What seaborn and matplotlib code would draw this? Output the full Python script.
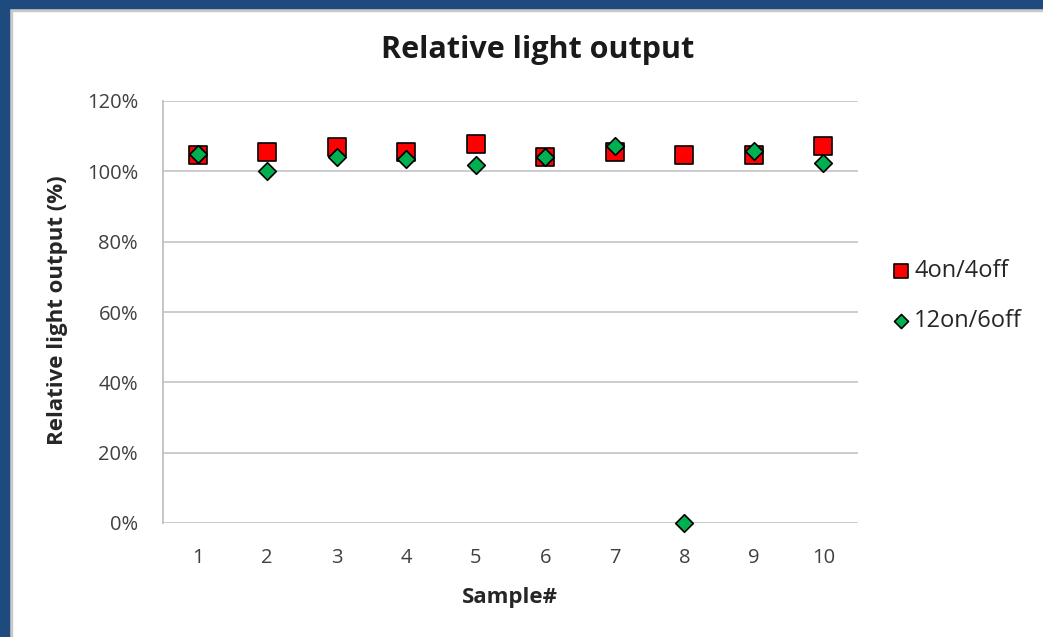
import matplotlib
matplotlib.use("Agg")
import matplotlib.pyplot as plt
import seaborn as sns
import pandas as pd
from matplotlib.patches import Rectangle
from matplotlib.ticker import PercentFormatter

samples = list(range(1, 11))
cycle_4on_4off = [104.6, 105.5, 106.9, 105.5, 107.8, 104.1, 105.5, 104.6, 104.6, 107.2]
cycle_12on_6off = [104.8, 100.2, 104.0, 103.5, 101.7, 104.1, 107.2, 0.0, 105.8, 102.5]
series_names = ["4on/4off", "12on/6off"]
y_ticks = [0, 20, 40, 60, 80, 100, 120]

sns.set_theme(style="white")
plt.rcParams["font.family"] = ["Open Sans", "DejaVu Sans"]

W, H = 1043, 637
fig = plt.figure(figsize=(W / 100, H / 100), dpi=100)
ax = fig.add_axes([163 / W, 1 - 523 / H, (858 - 163) / W, (523 - 101) / H])

df = pd.DataFrame({
    "Sample": samples * 2,
    "Output": cycle_4on_4off + cycle_12on_6off,
    "Series": [series_names[0]] * len(samples) + [series_names[1]] * len(samples),
})

sns.scatterplot(data=df[df["Series"] == series_names[0]], x="Sample", y="Output",
                marker="s", s=150, color="#FF0000", edgecolor="black", linewidth=1.2,
                label=series_names[0], ax=ax, zorder=3, clip_on=False)
sns.scatterplot(data=df[df["Series"] == series_names[1]], x="Sample", y="Output",
                marker="D", s=80, color="#00B050", edgecolor="black", linewidth=1.2,
                label=series_names[1], ax=ax, zorder=4, clip_on=False)

ax.set_xlim(0.5, 10.5)
ax.set_ylim(0, 120)
ax.set_xticks(samples)
ax.set_yticks(y_ticks)
ax.yaxis.set_major_formatter(PercentFormatter(decimals=0))
ax.grid(axis="y", color="#C8C8C8", linewidth=1.3)
ax.set_axisbelow(True)
for side in ["top", "right", "bottom"]:
    ax.spines[side].set_visible(False)
ax.spines["left"].set_color("#C0C0C0")
ax.spines["left"].set_linewidth(1.3)
ax.tick_params(axis="both", length=0, labelsize=14.5, colors="#404040")
ax.tick_params(axis="y", pad=18)
ax.tick_params(axis="x", pad=18)

ax.set_xlabel("")
ax.set_ylabel("")
fig.text(510 / W, 1 - 598 / H, "Sample#", fontsize=16, fontweight="bold",
         color="#262626", ha="center", va="center")
fig.text(58 / W, 1 - 310 / H, "Relative light output (%)", fontsize=16, fontweight="bold",
         color="#262626", ha="center", va="center", rotation=90)
fig.text(538 / W, 1 - 50 / H, "Relative light output", fontsize=22, fontweight="bold",
         color="#1a1a1a", ha="center", va="center")

leg = ax.legend(loc="center left", bbox_to_anchor=(868 / W, 1 - 296 / H),
                bbox_transform=fig.transFigure, frameon=False,
                fontsize=17, handletextpad=0.05, labelspacing=1.1, markerscale=0.8,
                handlelength=1.0, labelcolor="#262626")

# window frame
fig.patches.append(Rectangle((0, 1 - 8 / H), 1, 8 / H, transform=fig.transFigure,
                             color="#1F4A7E", zorder=10))
fig.patches.append(Rectangle((0, 0), 9 / W, 1, transform=fig.transFigure,
                             color="#1F4A7E", zorder=10))
fig.patches.append(Rectangle((9 / W, 0), 3 / W, 1 - 8 / H, transform=fig.transFigure,
                             color="#C8C8C8", zorder=9))
fig.patches.append(Rectangle((9 / W, 1 - 11 / H), 1, 3 / H, transform=fig.transFigure,
                             color="#C8C8C8", zorder=9))

fig.savefig("out.png", dpi=100)
